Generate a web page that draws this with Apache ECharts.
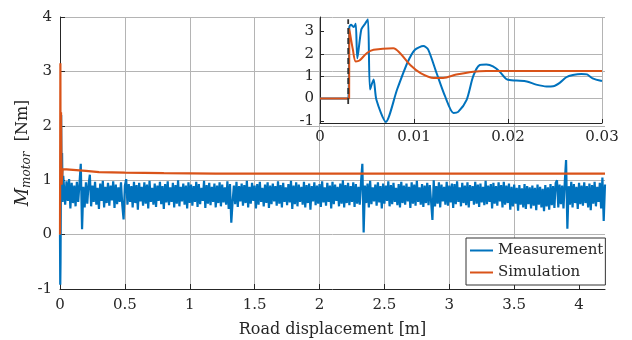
<!DOCTYPE html>
<html>
<head>
<meta charset="utf-8">
<script src="https://cdn.jsdelivr.net/npm/echarts@6/dist/echarts.min.js"></script>
<style>
  html, body { margin: 0; padding: 0; background: #fff; }
  #chart { width: 632px; height: 340px; }
</style>
</head>
<body>
<div id="chart"></div>
<script>
// main plot: first few samples of the measurement (start transient)
const mainStartX = [0, 0.002, 0.004, 0.006, 0.009, 0.012, 0.016, 0.02, 0.025];
const mainStartY = [0, -0.92, -0.5, 0.4, 2.2, 0.9, 1.5, 0.6, 1.08];

// main plot: measurement noise, one sample every 0.01 m from 0.03 m
const noiseStart = 0.03;
const noiseStep = 0.01;
const measNoise = [
  1.05,0.55,0.98,0.62,1.02,0.48,0.95,0.58,0.9,0.52,0.97,0.6,0.93,1.3,0.1,0.88,0.5,0.96,0.57,0.92,
  1.1,0.52,0.9,0.6,0.97,0.55,0.86,0.47,0.94,0.62,0.99,0.5,0.88,0.58,0.95,0.53,0.9,0.63,0.98,0.49,
  0.92,0.56,0.87,0.6,0.96,0.54,0.28,0.9,1.02,0.55,0.93,0.6,0.89,0.5,0.97,0.58,0.91,0.46,0.95,0.61,
  0.88,0.53,0.96,0.57,0.92,0.48,0.99,0.6,0.86,0.55,0.94,0.51,0.9,0.62,0.97,0.56,0.89,0.47,0.93,0.59,
  0.98,0.54,0.87,0.6,0.95,0.5,0.91,0.57,1.0,0.52,0.88,0.61,0.94,0.55,0.9,0.48,0.96,0.58,0.92,0.53,
  0.89,0.6,0.97,0.51,0.93,0.56,0.86,0.62,0.99,0.49,0.91,0.57,0.95,0.54,0.88,0.6,0.94,0.5,0.9,0.58,
  0.96,0.52,0.92,0.59,0.87,0.55,0.98,0.47,0.93,0.22,0.6,0.9,0.56,0.97,0.51,0.89,0.61,0.94,0.53,0.91,
  0.58,0.99,0.5,0.88,0.57,0.95,0.62,0.9,0.48,0.93,0.55,0.97,0.6,0.86,0.52,0.92,0.58,0.96,0.49,0.9,
  0.56,0.94,0.61,0.89,0.53,0.98,0.57,0.91,0.5,0.95,0.6,0.87,0.54,0.93,0.59,0.99,0.47,0.9,0.56,0.96,
  0.52,0.92,0.6,0.88,0.55,0.97,0.5,0.91,0.58,0.94,0.46,0.89,0.61,0.96,0.54,0.9,0.57,0.93,0.51,0.98,
  0.59,0.87,0.53,0.95,0.6,0.9,0.48,0.97,0.56,0.92,0.62,0.88,0.52,0.94,0.57,1.0,0.5,0.91,0.58,0.95,
  0.54,0.89,0.6,0.96,0.51,0.93,0.57,0.88,0.55,0.97,1.3,0.04,0.9,0.58,0.94,0.5,0.99,0.56,0.87,0.61,
  0.92,0.53,0.96,0.59,0.89,0.48,0.94,0.57,0.9,0.62,0.98,0.52,0.91,0.56,0.95,0.6,0.86,0.54,0.93,0.5,
  0.97,0.58,0.9,0.55,0.94,0.61,0.88,0.49,0.96,0.57,0.92,0.53,0.99,0.6,0.87,0.55,0.93,0.51,0.9,0.58,
  0.95,0.54,0.91,0.6,0.27,1.0,0.52,0.89,0.57,0.96,0.5,0.92,0.61,0.88,0.55,0.97,0.53,0.9,0.59,0.94,
  0.49,0.93,0.56,0.98,0.6,0.87,0.52,0.95,0.58,0.9,0.54,0.96,0.5,0.91,0.62,0.89,0.55,0.97,0.57,0.92,
  0.51,0.94,0.59,0.88,0.54,0.99,0.56,0.9,0.6,0.93,0.48,0.95,0.57,0.89,0.53,0.96,0.61,0.91,0.5,0.97,
  0.55,0.9,0.58,0.94,0.46,0.88,0.52,0.92,0.57,0.86,0.44,0.91,0.55,0.85,0.5,0.93,0.47,0.89,0.56,0.87,
  0.48,0.9,0.53,0.86,0.45,0.92,0.55,0.88,0.5,0.84,0.43,0.91,0.52,0.87,0.46,0.93,0.54,0.89,0.49,0.95,
  1.0,0.5,0.92,0.56,0.9,0.48,0.96,1.37,0.11,0.89,0.55,0.97,0.5,0.93,0.58,0.88,0.47,0.95,0.56,0.9,
  0.53,0.96,0.58,0.89,0.5,0.94,0.45,0.91,0.57,0.97,0.52,0.88,0.6,0.95,0.48,1.05,0.25,0.92
];

// main plot: simulation
const simMainX = [0, 0.003, 0.0035, 0.004, 0.006, 0.008, 0.012, 0.02, 0.03, 0.05, 0.1, 0.2, 0.3, 0.5, 0.8, 1.2, 2, 4.2];
const simMainY = [0, 3.15, 2.2, 1.66, 2.18, 2.25, 0.92, 1.2, 1.21, 1.2, 1.19, 1.17, 1.15, 1.14, 1.13, 1.12, 1.12, 1.12];

// inset: measurement
const insetMeasX = [0, 0.003, 0.00312, 0.0033, 0.0036, 0.0038, 0.00397, 0.0044, 0.0048, 0.0051, 0.00532, 0.0057, 0.006, 0.007,
  0.0082, 0.0093, 0.0101, 0.011, 0.0115, 0.0124, 0.0133, 0.0142, 0.0147, 0.0156, 0.0163, 0.017, 0.0177, 0.0184,
  0.0191, 0.0199, 0.0209, 0.022, 0.023, 0.0241, 0.0248, 0.0255, 0.0262, 0.0269, 0.0278, 0.0284, 0.029, 0.03];
const insetMeasY = [0, 0, 3.2, 3.3, 3.2, 3.35, 1.8, 3.1, 3.35, 3.55, 0.4, 0.85, -0.06, -1.05,
  0.4, 1.6, 2.18, 2.35, 2.2, 1.14, 0.1, -0.65, -0.6, -0.06, 1.0, 1.5, 1.52, 1.44,
  1.21, 0.85, 0.8, 0.76, 0.62, 0.54, 0.55, 0.7, 0.95, 1.05, 1.1, 1.08, 0.9, 0.78];

// inset: simulation
const insetSimX = [0, 0.0031, 0.00312, 0.0035, 0.0038, 0.0042, 0.005, 0.0057, 0.0078, 0.0085, 0.0096, 0.0107,
  0.0121, 0.0131, 0.0145, 0.0163, 0.0177, 0.03];
const insetSimY = [0, 0, 3.1, 2.18, 1.66, 1.7, 2.04, 2.18, 2.25, 2.04, 1.5, 1.14,
  0.92, 0.92, 1.07, 1.2, 1.23, 1.23];

// inset: dashed start marker
const markerX = 0.003;
const markerY = [-0.25, 3.55];

const mainXTicks = [0, 0.5, 1, 1.5, 2, 2.5, 3, 3.5, 4];
const insetYTicks = [-1, 0, 1, 2, 3];

const BLUE = '#0072BD';
const ORANGE = '#D95319';
const AXIS = '#262626';
const GRID = '#b4b4b4';
const FONT = 'DejaVu Serif';

const zip = (xs, ys) => xs.map((x, i) => [x, ys[i]]);
const measMain = zip(mainStartX, mainStartY).concat(
  measNoise.map((v, i) => [+(noiseStart + i * noiseStep).toFixed(3), v])
);

const chart = echarts.init(document.getElementById('chart'), null, { renderer: 'canvas' });

const labelStyle = { color: AXIS, fontFamily: FONT, fontSize: 15 };

const option = {
  animation: false,
  backgroundColor: '#fff',
  grid: [
    { left: 60, right: 27, top: 17, bottom: 51, outerBoundsMode: 'none' },
    { left: 320, right: 30, top: 17, bottom: 217, outerBoundsMode: 'none' }
  ],
  xAxis: [
    {
      gridIndex: 0, type: 'value', min: 0, max: 4.2,
      name: 'Road displacement [m]', nameLocation: 'middle', nameGap: 33,
      nameTextStyle: { color: AXIS, fontFamily: FONT, fontSize: 16 },
      axisLine: { onZero: false, lineStyle: { color: AXIS, width: 1 } },
      axisTick: { inside: true, length: 5, customValues: mainXTicks, lineStyle: { color: AXIS } },
      axisLabel: Object.assign({ margin: 9, customValues: mainXTicks }, labelStyle),
      splitLine: { show: true, showMinLine: false, showMaxLine: false, lineStyle: { color: GRID } }
    },
    {
      gridIndex: 1, type: 'value', min: 0, max: 0.03, interval: 0.01,
      axisLine: { onZero: false, lineStyle: { color: AXIS, width: 1 } },
      axisTick: { inside: true, length: 4, lineStyle: { color: AXIS } },
      axisLabel: Object.assign({ margin: 7 }, labelStyle),
      splitLine: { show: true, showMinLine: false, lineStyle: { color: GRID } }
    }
  ],
  yAxis: [
    {
      gridIndex: 0, type: 'value', min: -1, max: 4, interval: 1,
      name: '{m|M}{s|motor}  [Nm]', nameLocation: 'middle', nameGap: 27, nameRotate: 90,
      nameMoveOverlap: false,
      nameTextStyle: {
        color: AXIS, fontFamily: FONT, fontSize: 16,
        rich: {
          m: { fontFamily: FONT, fontStyle: 'italic', fontSize: 18, color: AXIS },
          s: { fontFamily: FONT, fontStyle: 'italic', fontSize: 12, color: AXIS, padding: [8, 0, 0, 0] }
        }
      },
      axisLine: { show: true, onZero: false, lineStyle: { color: AXIS, width: 1 } },
      axisTick: { show: true, inside: true, length: 5, lineStyle: { color: AXIS } },
      axisLabel: Object.assign({ margin: 8 }, labelStyle),
      splitLine: { show: true, showMinLine: false, lineStyle: { color: GRID } }
    },
    {
      gridIndex: 1, type: 'value', min: -1.1, max: 3.65,
      axisLine: { show: true, onZero: false, lineStyle: { color: AXIS, width: 1 } },
      axisTick: { show: true, inside: true, length: 4, customValues: insetYTicks, lineStyle: { color: AXIS } },
      axisLabel: Object.assign({ margin: 6, customValues: insetYTicks }, labelStyle),
      splitLine: { show: true, showMinLine: false, showMaxLine: false, lineStyle: { color: GRID } }
    }
  ],
  legend: {
    data: ['Measurement', 'Simulation'],
    orient: 'vertical',
    left: 466, top: 238,
    backgroundColor: '#fff',
    borderColor: '#333', borderWidth: 1, borderRadius: 0,
    padding: [5, 2, 5, 4],
    itemGap: 7, itemWidth: 23, itemHeight: 2,
    icon: 'rect',
    textStyle: { color: AXIS, fontFamily: FONT, fontSize: 15 }
  },
  series: [
    {
      name: 'Measurement', type: 'line', xAxisIndex: 0, yAxisIndex: 0,
      data: measMain, symbol: 'none', clip: true,
      lineStyle: { color: BLUE, width: 2.2 }, itemStyle: { color: BLUE }
    },
    {
      name: 'Simulation', type: 'line', xAxisIndex: 0, yAxisIndex: 0,
      data: zip(simMainX, simMainY), symbol: 'none', clip: true,
      lineStyle: { color: ORANGE, width: 2.2 }, itemStyle: { color: ORANGE }
    },
    {
      name: 'Measurement', type: 'line', xAxisIndex: 1, yAxisIndex: 1,
      data: zip(insetMeasX, insetMeasY), symbol: 'none', clip: true, smooth: 0.25,
      lineStyle: { color: BLUE, width: 2 }, itemStyle: { color: BLUE }
    },
    {
      name: 'Simulation', type: 'line', xAxisIndex: 1, yAxisIndex: 1,
      data: zip(insetSimX, insetSimY), symbol: 'none', clip: true, smooth: 0.3,
      lineStyle: { color: ORANGE, width: 2 }, itemStyle: { color: ORANGE }
    },
    {
      name: 'start', type: 'line', xAxisIndex: 1, yAxisIndex: 1,
      data: markerY.map(y => [markerX, y]), symbol: 'none',
      lineStyle: { color: '#333', width: 1.8, type: [6, 4] }
    }
  ]
};

chart.setOption(option);
</script>
</body>
</html>
